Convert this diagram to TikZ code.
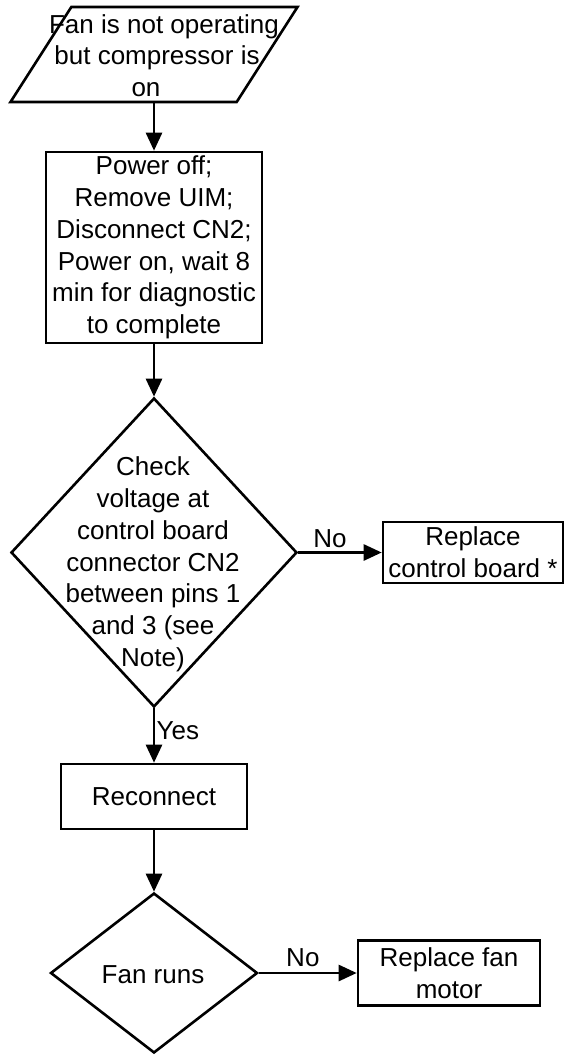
\documentclass[tikz,border=0pt]{standalone}
\usepackage{fontspec}
\setmainfont{Liberation Sans}
\usetikzlibrary{shapes.geometric,arrows.meta}

\tikzset{
  flow/.style={line width=2.6pt, -{Triangle[length=18pt,width=16pt]}},
  stepbox/.style={draw, line width=2.6pt, align=center, inner sep=0pt},
  decision/.style={draw, diamond, line width=2.6pt, inner sep=1pt},
  inputbox/.style={draw, trapezium, trapezium left angle=69.8, trapezium right angle=110.2,
    trapezium stretches=true, line width=2.6pt, inner sep=1pt},
}

\begin{document}
\begin{tikzpicture}[x=1pt, y=-1pt, font=\fontsize{26}{31.7}\selectfont]

  \useasboundingbox (0,0) rectangle (565,1055);

  \node[inputbox, minimum width=287pt, minimum height=95pt] (start) at (154,54.5) {};
  \node[align=center] (starttext) at (154,55.7)
    {\hspace*{20pt}Fan is not operating\\\hspace*{6pt}but compressor is\\on\hspace*{16pt}};

  \node[stepbox, minimum width=216pt, minimum height=191pt] (power) at (154,247.5)
    {Power off;\\Remove UIM;\\Disconnect CN2;\\Power on, wait 8\\min for diagnostic\\to complete};

  \node[decision, minimum width=286pt, minimum height=309pt] (check) at (154,552.5) {};
  \node[align=center] (checktext) at (153,564.3)
    {Check\\voltage at\\control board\\connector CN2\\between pins 1\\and 3 (see\\Note)};

  \node[stepbox, minimum width=180pt, minimum height=61pt] (board) at (473,552.5)
    {Replace\\control board *};

  \node[stepbox, minimum width=186pt, minimum height=65pt] (reconnect) at (154,796.5) {Reconnect};

  \node[decision, minimum width=207pt, minimum height=160pt] (fanruns) at (154,973) {};
  \node (fantext) at (153,974.5) {Fan runs};

  \node[stepbox, minimum width=182pt, minimum height=65pt] (motor) at (449,973)
    {Replace fan\\motor};

  % connectors
  \draw[flow] (start.south) -- (power.north);
  \draw[flow] (power.south) -- (check.north);
  \draw[flow] (check.east) -- node[above, pos=0.38]{No} (board.west);
  \draw[flow] (check.south) -- node[right=-2pt, pos=0.42]{Yes} (reconnect.north);
  \draw[flow] (reconnect.south) -- (fanruns.north);
  \draw[flow] (fanruns.east) -- node[above=2pt, pos=0.45]{No} (motor.west);

\end{tikzpicture}
\end{document}
